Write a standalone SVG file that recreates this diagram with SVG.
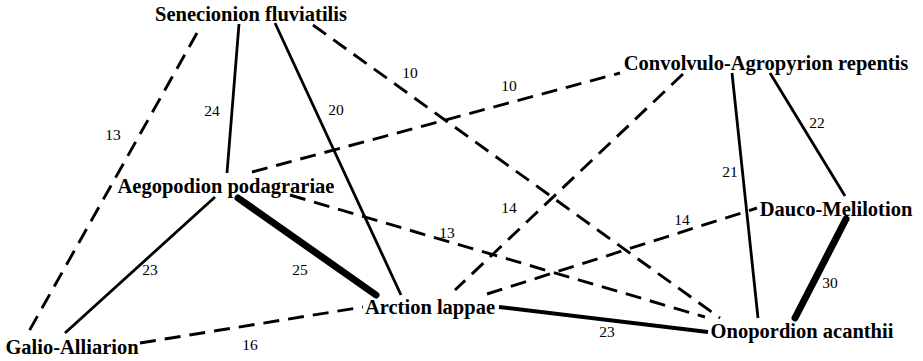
<svg xmlns="http://www.w3.org/2000/svg" width="923" height="361" viewBox="0 0 923 361">
<style>
.node text{font-family:"Liberation Serif","Times New Roman",serif;font-weight:bold;font-size:20.5px;text-anchor:middle;fill:#000}
text.lbl{font-family:"Liberation Serif","Times New Roman",serif;font-size:15.5px;text-anchor:middle;fill:#000}
.s{stroke:#000;stroke-width:2.8;fill:none}
.d{stroke:#000;stroke-width:2.9;fill:none;stroke-dasharray:16 9}
.m{stroke:#000;stroke-width:4;fill:none}
.t{stroke:#000;stroke-width:7;fill:none;stroke-linecap:round}
</style>
<rect width="923" height="361" fill="#fff"/>
<g id="connectors">
<line class="d" x1="197" y1="33" x2="28" y2="333"/>
<line class="s" x1="239" y1="24" x2="227" y2="173"/>
<line class="s" x1="275" y1="23" x2="401" y2="295"/>
<line class="d" x1="313" y1="25" x2="720" y2="318"/>
<line class="d" x1="252" y1="172" x2="620" y2="73"/>
<line class="t" x1="238" y1="198" x2="376" y2="295"/>
<line class="s" x1="215" y1="197" x2="65" y2="333"/>
<line class="d" x1="290" y1="195" x2="705" y2="317"/>
<line class="d" x1="683" y1="74" x2="455" y2="290"/>
<line class="d" x1="487" y1="294" x2="757" y2="208"/>
<line class="m" x1="499" y1="307" x2="708" y2="332"/>
<line class="d" x1="140" y1="343" x2="363" y2="307"/>
<line class="s" x1="732" y1="73" x2="758" y2="318"/>
<line class="s" x1="770" y1="73" x2="845" y2="196"/>
<line class="t" x1="846" y1="219" x2="795" y2="318"/>
<text class="lbl" x="113" y="140">13</text>
<text class="lbl" x="212" y="116">24</text>
<text class="lbl" x="336" y="115">20</text>
<text class="lbl" x="410" y="78">10</text>
<text class="lbl" x="509" y="91">10</text>
<text class="lbl" x="300" y="275">25</text>
<text class="lbl" x="150" y="275">23</text>
<text class="lbl" x="447" y="238">13</text>
<text class="lbl" x="509" y="213">14</text>
<text class="lbl" x="682" y="225">14</text>
<text class="lbl" x="607" y="337">23</text>
<text class="lbl" x="250" y="350">16</text>
<text class="lbl" x="730" y="177">21</text>
<text class="lbl" x="817" y="128">22</text>
<text class="lbl" x="830" y="288">30</text>
</g>
<g id="senecionion" class="node"><text x="251" y="21">Senecionion fluviatilis</text></g>
<g id="convolvulo" class="node"><text x="766" y="70">Convolvulo-Agropyrion repentis</text></g>
<g id="aegopodion" class="node"><text x="226" y="193">Aegopodion podagrariae</text></g>
<g id="dauco" class="node"><text x="836" y="216">Dauco-Melilotion</text></g>
<g id="arction" class="node"><text x="430" y="314">Arction lappae</text></g>
<g id="galio" class="node"><text x="72" y="354">Galio-Alliarion</text></g>
<g id="onopordion" class="node"><text x="802" y="338">Onopordion acanthii</text></g>
</svg>
